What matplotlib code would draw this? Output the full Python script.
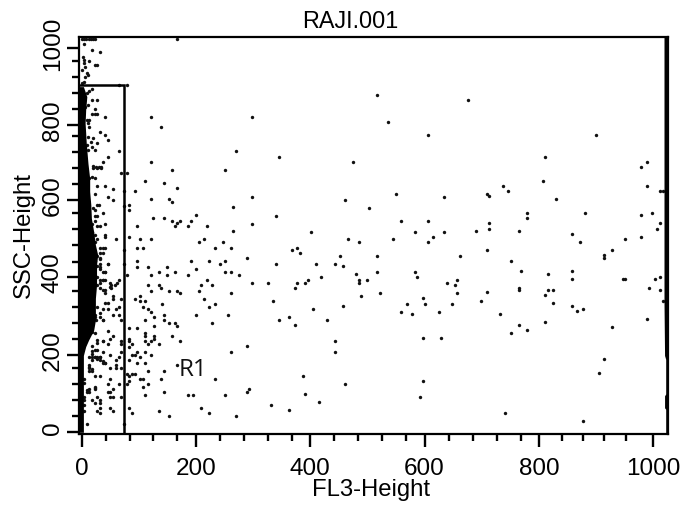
import matplotlib
matplotlib.use("Agg")
import matplotlib.pyplot as plt
from matplotlib.transforms import ScaledTranslation
import numpy as np

title = "RAJI.001"
xlabel = "FL3-Height"
ylabel = "SSC-Height"
gate_label = "R1"

# FL3, SSC events
events_centre = [(517,878),(676,864),(298,822),(536,808),(606,773),(345,718),(475,704),(298,613),(461,606),(550,620),
(634,613),(503,585),(340,564),(298,543),(559,550),(606,550),(401,522),(583,522),(634,522),(615,509),(466,502),(545,502),
(485,495),(606,495),(377,481),(368,474),(382,467),(452,460),(517,460),(662,460),(289,453),(340,439),(410,439),(443,439),
(457,432),(517,418),(583,418),(480,411),(587,404),(419,404),(396,397),(485,397),(499,397),(657,397),(298,390),(326,390),
(377,390),(391,390),(485,390),(639,390),(653,384),(373,377),(522,363),(657,363),(489,356),(597,349),(335,342),(569,335),
(601,335),(648,335),(457,328),(405,321),(559,314),(625,314),(578,307),(363,300),(345,293),(429,293),(373,279),(443,238),
(597,245),(629,245),(289,224),(443,210),(387,147),(597,134),(461,127),(293,113),(289,106),(391,99),(592,92),(415,78),
(331,71),(363,57)]

events_right = [(900,773),(811,718),(989,704),(979,690),(807,655),(737,641),(989,641),(746,628),(709,620),(713,614),(830,607),
(779,572),(881,572),(998,572),(979,565),(779,558),(713,544),(1012,544),(713,530),(1007,530),(690,523),(765,523),(858,516),
(979,509),(951,502),(872,495),(709,475),(928,475),(914,461),(914,454),(751,447),(769,419),(858,419),(816,412),(1012,405),
(858,398),(947,398),(951,398),(1003,398),(993,377),(765,377),(765,371),(816,371),(825,371),(1012,371),(709,364),(811,357),
(699,343),(1017,343),(825,336),(858,329),(877,322),(867,315),(732,308),(989,294),(811,287),(765,280),(928,273),(779,266),
(751,259),(914,190),(905,155),(741,49),(877,29),(1012,627),(1017,627)]

events_lower_left = [(191,445),(223,445),(242,438),(251,445),(97,445),(97,431),(116,431),(149,431),(200,424),(135,417),(163,417),
(251,417),(261,417),(121,410),(149,410),(186,410),(275,410),(79,410),(219,397),(209,383),(228,383),(116,383),(135,383),
(139,376),(121,369),(153,369),(167,369),(172,362),(205,369),(261,362),(102,355),(93,348),(102,341),(111,341),(214,348),
(140,334),(233,334),(223,327),(107,327),(116,320),(121,313),(144,306),(200,306),(256,306),(126,299),(144,292),(111,292),
(153,285),(163,285),(228,285),(167,278),(126,278),(83,271),(97,271),(111,258),(111,251),(158,251),(126,251),(126,244),
(121,237),(111,237),(172,237),(135,230),(116,230),(83,237),(83,223),(88,230),(83,244),(261,209),(111,209),(97,209),
(121,202),(88,202),(93,202),(102,195),(83,188),(97,181),(111,181),(167,174),(144,160),(116,160),(93,153),(88,153),(83,146),
(79,153),(102,140),(107,140),(139,140),(233,140),(83,133),(116,126),(79,126),(107,119),(144,105),(111,98),(186,98),(195,98),
(251,98),(209,63),(83,63),(135,56),(88,49),(223,49),(153,42),(270,42)]

events_upper_left = [(167,1023),(65,905),(79,905),(121,822),(139,794),(270,732),(121,704),(158,683),(251,683),(69,676),(79,676),
(111,655),(144,648),(167,635),(74,628),(93,628),(121,607),(153,607),(158,600),(83,593),(74,589),(83,579),(265,586),(200,565),
(125,558),(144,558),(158,551),(172,551),(167,544),(163,537),(191,551),(186,537),(219,537),(97,537),(265,523),(83,509),(60,502),
(102,502),(121,502),(214,502),(205,495),(247,495),(233,481),(261,481),(97,481),(107,481)]

events_gate_low = [(46,438),(41,417),(32,450),(32,431),(32,397),(38,397),(61,390),(66,397),(59,383),(50,379),(41,362),(50,388),
(55,348),(55,355),(69,348),(41,336),(46,336),(46,320),(37,320),(60,320),(65,327),(55,306),(65,306),(32,299),(37,292),(69,292),
(23,299),(46,265),(55,251),(50,244),(37,237),(46,230),(69,237),(69,230),(26,240),(37,209),(50,202),(69,209),(23,214),(18,205),
(27,195),(23,195),(32,195),(18,188),(32,188),(65,195),(60,188),(41,181),(37,181),(60,174),(60,167),(50,167),(13,174),(13,167),
(18,160),(69,167),(23,146),(32,146),(50,140),(46,126),(65,126),(23,119),(23,112),(55,112),(9,105),(13,105),(50,105),(46,105),
(69,91),(50,91),(55,91),(27,91),(18,84),(32,84),(23,77),(32,77),(32,63),(27,56),(32,49),(50,63),(55,56),(9,21),(74,21),(74,438),(74,475)]

events_gate_high = [(4,1010),(18,996),(32,989),(3,978),(4,970),(4,961),(6,952),(13,968),(23,956),(27,956),(9,935),(11,931),(6,926),
(4,913),(0,944),(0,909),(18,893),(13,888),(9,883),(18,864),(27,864),(11,852),(6,847),(23,843),(18,829),(23,829),(27,829),(41,822),
(9,814),(13,812),(11,805),(13,795),(32,781),(41,774),(46,760),(20,766),(16,757),(9,749),(11,770),(27,753),(65,732),(18,744),(11,736),
(23,736),(46,718),(37,704),(20,694),(25,690),(30,690),(34,690),(20,689),(26,689),(33,689),(18,666),(23,661),(13,661),(27,641),(41,641),
(55,633),(23,620),(46,613),(55,606),(31,592),(26,592),(20,585),(23,578),(37,571),(23,564),(27,564),(23,550),(18,543),(27,536),(41,543),
(32,536),(41,515),(41,508),(18,522),(23,515),(18,502),(27,502),(23,495),(32,481),(37,481),(41,481),(32,467),(27,460),(38,466),(32,453),
(32,439),(23,446),(46,439),(27,432),(32,425),(37,418),(41,418),(27,404),(37,397),(41,397),(32,390),(27,383),(32,377),(37,370),(51,377),
(51,383),(41,370),(27,327),(32,310),(23,306),(25,292),(37,292),(18,261),(23,258),(37,237),(27,233),(18,226),(18,212),(27,214),(13,197),
(18,195),(23,195),(27,192),(32,195),(37,185),(41,181),(13,171),(18,164),(13,160),(4,140),(4,129),(9,110),(13,114),(23,115),(4,93),(4,84),
(4,70),(4,56),(0,1023),(4,1023),(8,1023),(12,1023),(16,1023),(20,1023),(24,1023)]

# outline of the saturated mass of events along the left axis
band_y = [0,200,206,223,240,266,292,318,349,383,410,436,462,488,522,557,592,627,661,687,700,753,805,840,874,900]
band_x = [3,3,4,7,12,21,24,24,24,26,26,26,28,24,21,17,16,14,14,12,11,8,6,7,9,3]

# saturated column along the right edge
edge_y = [-5,60,64,95,100,155,190,200,340,1030]
edge_x = [1022,1022,1020,1020,1022,1022,1022,1020,1019,1019]

# gate R1
gate_x = [-4,74,74]
gate_y = [904,904,-5]

x_major = [0,200,400,600,800,1000]
x_major_labels = ["0","200","400","600","800","1000"]
x_minor = [42,84,125,167,242,284,326,368,442,484,526,568,642,685,727,769,840,877,914,952]
y_major = [0,201,404,605,800,1000]
y_major_labels = ["0","200","400","600","800","1000"]
y_minor = [42,84,126,167,244,285,327,369,444,488,529,570,647,688,730,772,841,883,924,966]

plt.rcParams['font.family'] = ['Liberation Sans', 'DejaVu Sans']
W, H = 698, 507
fig = plt.figure(figsize=(W/100, H/100), dpi=100)
ax = fig.add_axes([79/W, 1-434.3/H, (668-79)/W, (434.3-36.7)/H])
ax.set_xlim(-4.7, 1026)
ax.set_ylim(-5.2, 1030)

pts = np.array(events_centre + events_right + events_lower_left + events_upper_left + events_gate_low + events_gate_high)
ax.scatter(pts[:,0], pts[:,1], s=6, c='#111111', linewidths=0, zorder=3, clip_on=False)
ax.fill_betweenx(band_y, -4.7, band_x, color='black', lw=0, zorder=3)
ax.fill_betweenx(edge_y, edge_x, 1026, color='black', lw=0, zorder=3)
ax.plot(gate_x, gate_y, color='black', lw=1.8, solid_joinstyle='miter', zorder=4)
ax.text(170, 162, gate_label, fontsize=17.5, family='Open Sans', color='#111111', va='center', ha='left', zorder=5)

for s in ax.spines.values():
    s.set_linewidth(1.6)
ax.set_xticks(x_major, x_major_labels)
ax.set_yticks(y_major, y_major_labels, rotation=90, va='center')
ax.set_xticks(x_minor, minor=True)
ax.set_yticks(y_minor, minor=True)
ax.tick_params(which='major', length=9, width=1.7, labelsize=17.5)
ax.tick_params(axis='x', which='major', pad=8)
ax.tick_params(axis='y', which='major', pad=2)
ax.tick_params(which='minor', length=5, width=1.7)
shift = ScaledTranslation(0, 3/72, fig.dpi_scale_trans)
for lab in ax.get_yticklabels():
    lab.set_verticalalignment('center')
    lab.set_transform(lab.get_transform() + shift)

fig.text(350/W, 1-22/H, title, fontsize=16.8, ha='center', va='center')
fig.text(371/W, 1-490/H, xlabel, fontsize=17.2, ha='center', va='center')
fig.text(24/W, 1-235/H, ylabel, fontsize=17.2, rotation=90, ha='center', va='center')
fig.savefig("out.png", dpi=100)
